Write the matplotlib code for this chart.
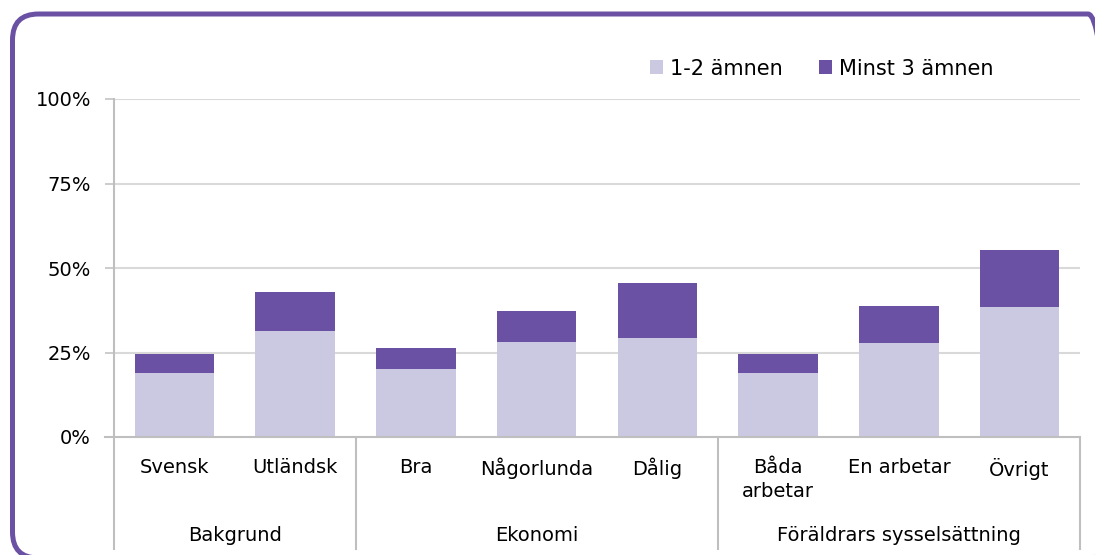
import matplotlib
matplotlib.use('Agg')
import matplotlib.pyplot as plt
import matplotlib.transforms as mtransforms
from matplotlib.patches import FancyBboxPatch
import numpy as np

# Data
categories = ['Svensk', 'Utländsk', 'Bra', 'Någorlunda', 'Dålig',
              'Båda\narbetar', 'En arbetar', 'Övrigt']
groups = ['Bakgrund', 'Ekonomi', 'Föräldrars sysselsättning']
group_sizes = [2, 3, 3]
low = [18.9, 31.4, 20.1, 28.1, 29.3, 18.9, 27.8, 38.5]     # 1-2 ämnen
total = [24.7, 42.9, 26.3, 37.3, 45.6, 24.6, 38.8, 55.3]   # 1-2 + minst 3
high = [t - l for t, l in zip(total, low)]                  # Minst 3 ämnen
series_names = ['1-2 ämnen', 'Minst 3 ämnen']
yticks = [0, 25, 50, 75, 100]

light = '#CBC9E2'
dark = '#6A51A3'
grid_c = '#D9D9D9'
axis_c = '#BFBFBF'

W, H = 1095, 555
fig = plt.figure(figsize=(W / 100, H / 100), dpi=100)
plt.rcParams['font.family'] = ['DejaVu Sans']

# rounded purple frame (pixel coords via inches), right/bottom run off the image
frame = FancyBboxPatch((12.5 / 100, (H - 558) / 100), (1114 - 12.5) / 100, (558 - 14) / 100,
                       boxstyle='round,pad=0,rounding_size=0.26',
                       transform=fig.dpi_scale_trans, fill=False,
                       edgecolor=dark, linewidth=3.6, clip_on=False)
fig.patches.append(frame)

x0, x1, y0, y1 = 114, 1080, 437, 99
ax = fig.add_axes([x0 / W, (H - y0) / H, (x1 - x0) / W, (y0 - y1) / H])

x = np.arange(len(categories))
ax.bar(x, low, width=0.66, color=light, zorder=2, label=series_names[0])
ax.bar(x, high, bottom=low, width=0.66, color=dark, zorder=2, label=series_names[1])

ax.set_xlim(-0.5, len(categories) - 0.5)
ax.set_ylim(0, 100)
ax.set_yticks(yticks)
ax.set_yticklabels([f'{v}%' for v in yticks], fontsize=14)
ax.tick_params(axis='y', length=6.5, width=1.1, color=axis_c, pad=10)
ax.set_xticks([])
for v in yticks[1:]:
    ax.axhline(v, color=grid_c, linewidth=1.5, zorder=1)
for s in ['top', 'right', 'bottom']:
    ax.spines[s].set_visible(False)
ax.spines['left'].set_color(axis_c)
ax.spines['left'].set_linewidth(1.5)

# x axis line, extends to the left like the tick marks
trans = mtransforms.blended_transform_factory(ax.transData, ax.transAxes)
ax.plot([-0.5 - 9 / 120.75, len(categories) - 0.5], [0, 0], transform=trans,
        color=axis_c, linewidth=1.5, clip_on=False, zorder=3)

# group separators and labels
bounds = np.concatenate([[0], np.cumsum(group_sizes)]) - 0.5
for b in bounds:
    ax.plot([b, b], [0, -0.33], transform=trans, color=axis_c,
            linewidth=1.5, clip_on=False)
for i, c in enumerate(categories):
    ax.text(i, -0.062, c, transform=trans, ha='center', va='top',
            fontsize=14, linespacing=1.32)
for g, a, b in zip(groups, bounds[:-1], bounds[1:]):
    ax.text((a + b) / 2, -0.29, g, transform=trans, ha='center',
            va='center', fontsize=14)

# legend
ax.legend(loc='lower right', bbox_to_anchor=(0.91, 1.06), ncol=2, frameon=False,
          fontsize=15, handlelength=0.65, handleheight=0.65,
          handletextpad=0.3, columnspacing=1.75, borderaxespad=0.0,
          borderpad=0.0)

fig.savefig('out.png', dpi=100)
